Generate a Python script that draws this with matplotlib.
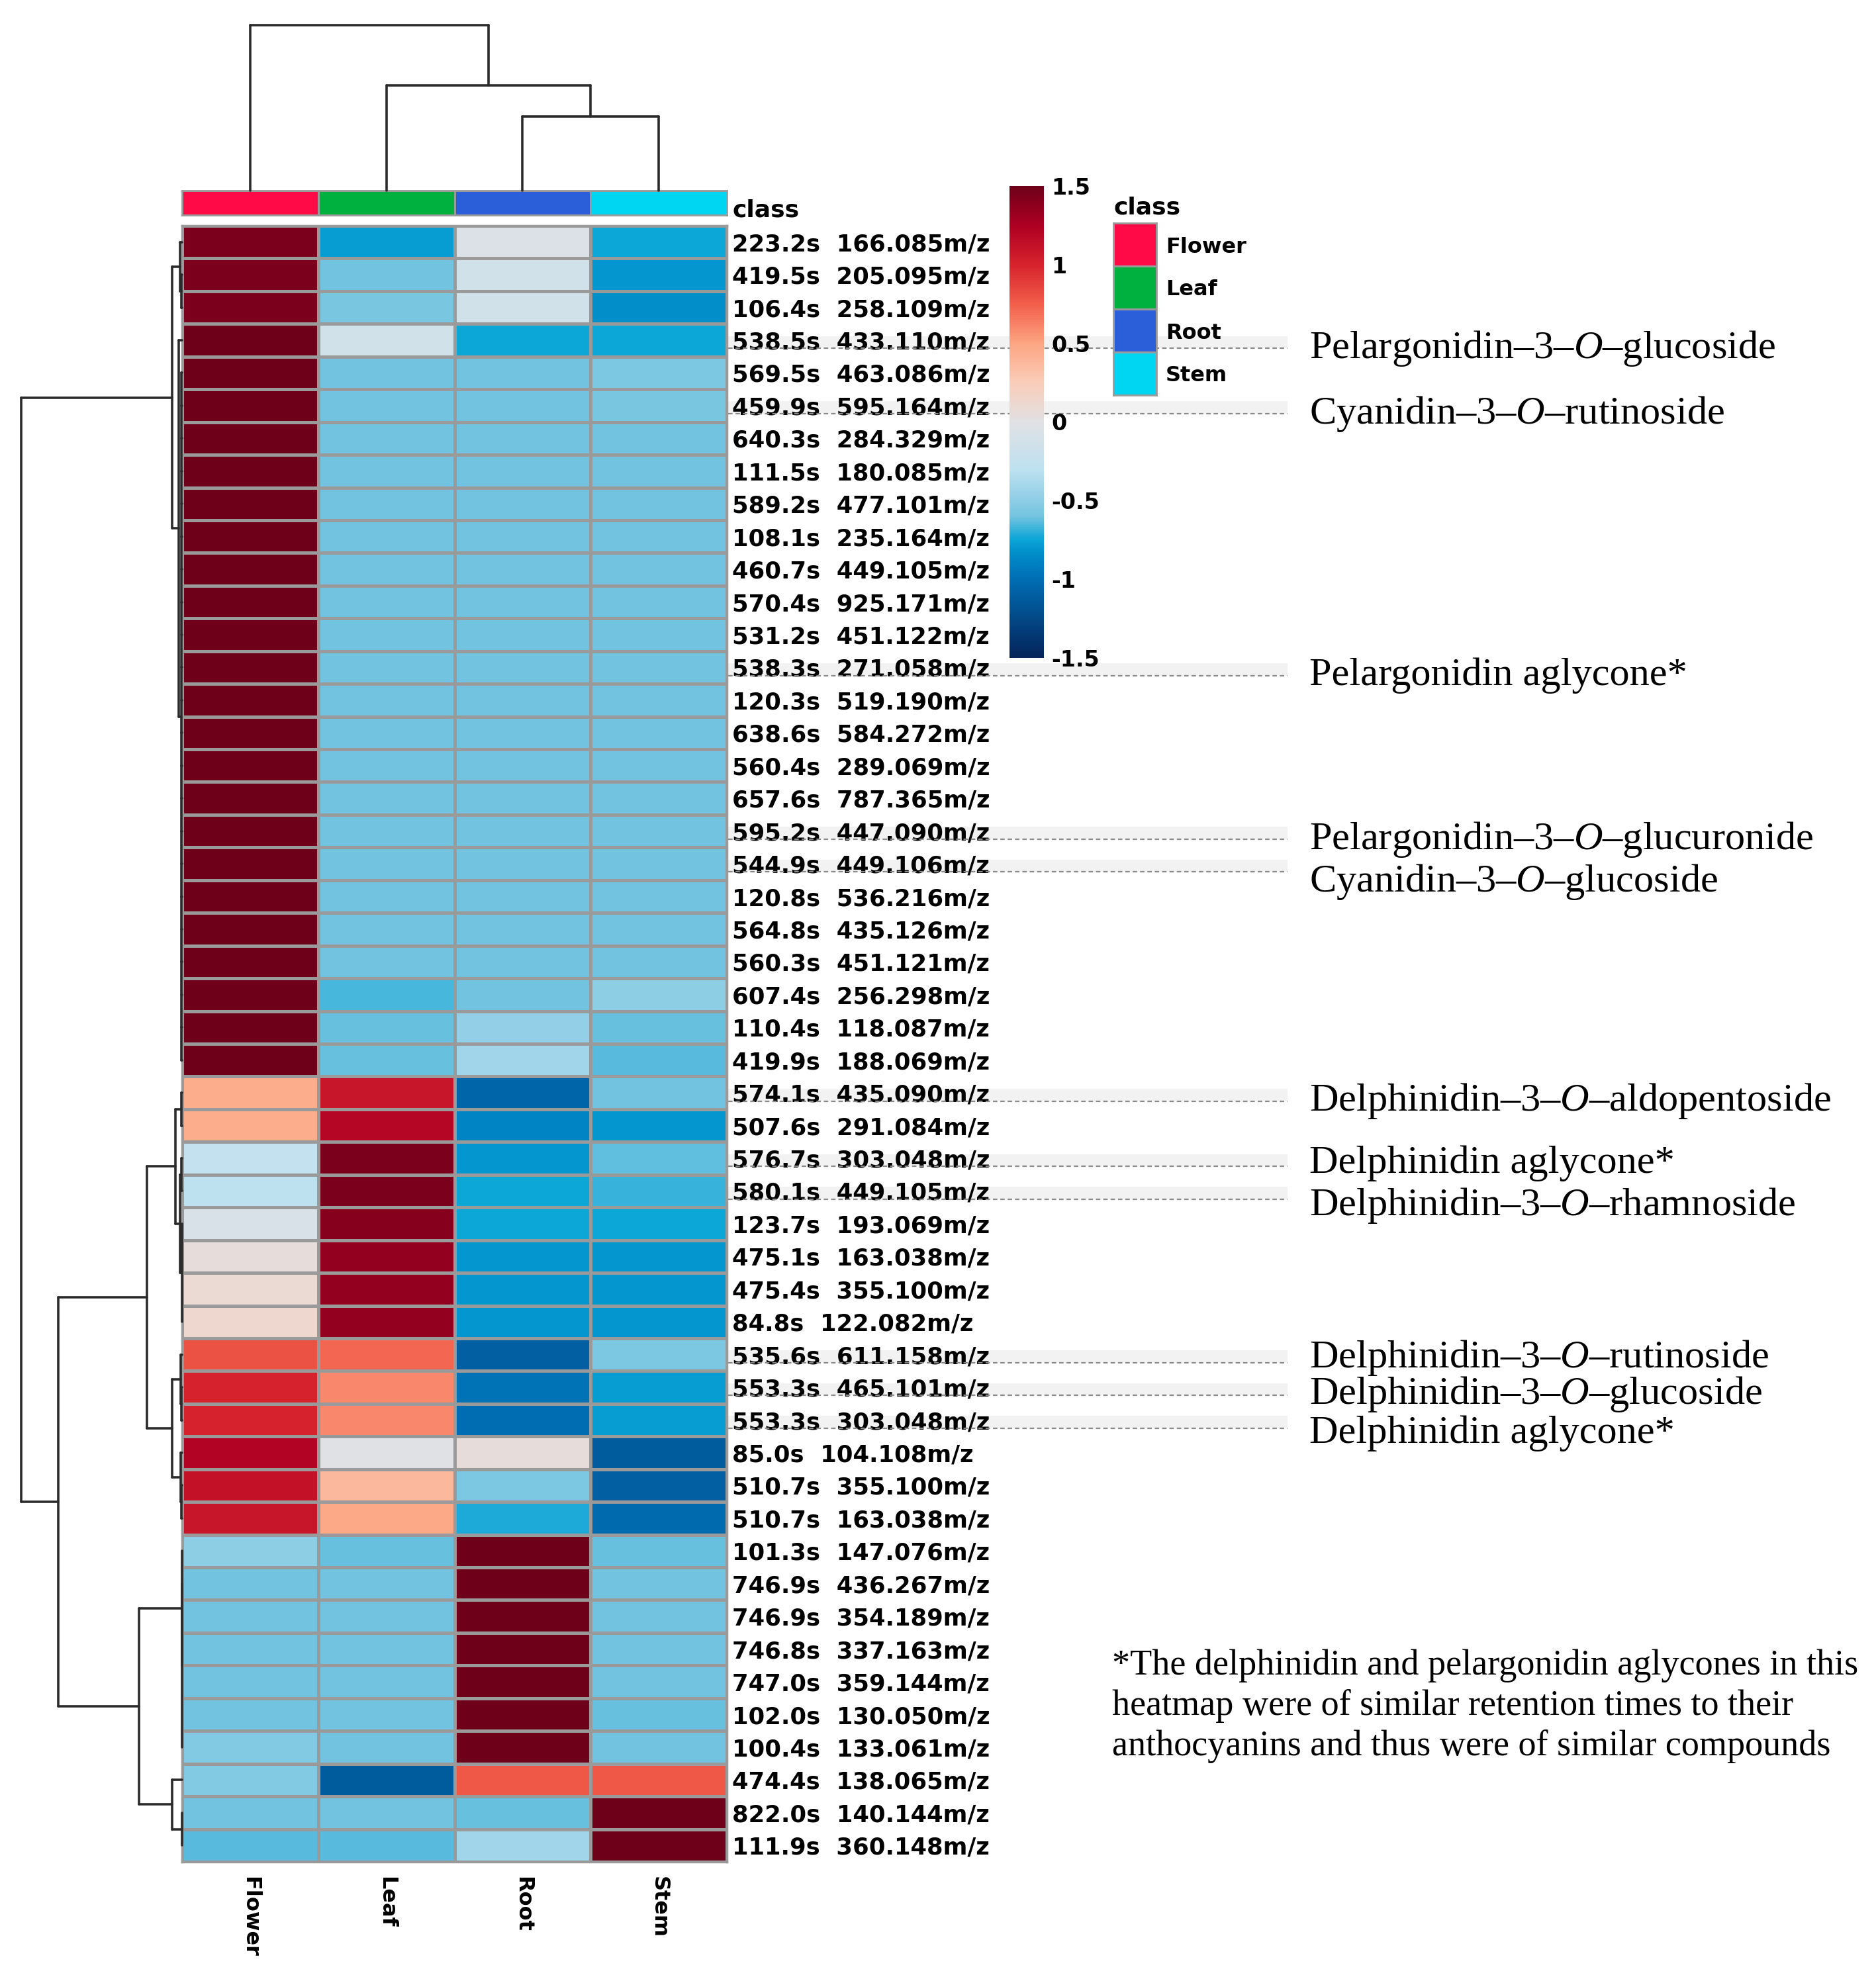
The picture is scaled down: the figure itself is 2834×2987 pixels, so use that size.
import matplotlib

matplotlib.use("Agg")
import matplotlib.pyplot as plt
import numpy as np
from matplotlib.colors import LinearSegmentedColormap, ListedColormap
from matplotlib.patches import Rectangle
from matplotlib.transforms import blended_transform_factory

plt.rcParams["mathtext.fontset"] = "custom"
plt.rcParams["mathtext.rm"] = "Liberation Serif"
plt.rcParams["mathtext.it"] = "Liberation Serif:italic"

# ---- data (rows top to bottom, as clustered) ----
rt = ["223.2s", "419.5s", "106.4s", "538.5s", "569.5s", "459.9s", "640.3s", "111.5s",
      "589.2s", "108.1s", "460.7s", "570.4s", "531.2s", "538.3s", "120.3s", "638.6s",
      "560.4s", "657.6s", "595.2s", "544.9s", "120.8s", "564.8s", "560.3s", "607.4s",
      "110.4s", "419.9s", "574.1s", "507.6s", "576.7s", "580.1s", "123.7s", "475.1s",
      "475.4s", "84.8s", "535.6s", "553.3s", "553.3s", "85.0s", "510.7s", "510.7s",
      "101.3s", "746.9s", "746.9s", "746.8s", "747.0s", "102.0s", "100.4s", "474.4s",
      "822.0s", "111.9s"]
mz = ["166.085", "205.095", "258.109", "433.110", "463.086", "595.164", "284.329", "180.085",
      "477.101", "235.164", "449.105", "925.171", "451.122", "271.058", "519.190", "584.272",
      "289.069", "787.365", "447.090", "449.106", "536.216", "435.126", "451.121", "256.298",
      "118.087", "188.069", "435.090", "291.084", "303.048", "449.105", "193.069", "163.038",
      "355.100", "122.082", "611.158", "465.101", "303.048", "104.108", "355.100", "163.038",
      "147.076", "436.267", "354.189", "337.163", "359.144", "130.050", "133.061", "138.065",
      "140.144", "360.148"]

flower = [1.45, 1.45, 1.45, 1.5, 1.5, 1.5, 1.5, 1.5, 1.5, 1.5, 1.5, 1.5, 1.5, 1.5, 1.5, 1.5,
          1.5, 1.5, 1.5, 1.5, 1.5, 1.5, 1.5, 1.5, 1.5, 1.5,
          0.45, 0.45, -0.25, -0.3, -0.08, 0.05, 0.1, 0.12, 0.8, 1.0, 1.0, 1.22, 1.12, 1.1,
          -0.5, -0.6, -0.6, -0.6, -0.6, -0.6, -0.55, -0.55, -0.6, -0.64]
leaf = [-0.78, -0.6, -0.58, -0.15, -0.6, -0.6, -0.6, -0.6, -0.6, -0.6, -0.6, -0.6, -0.6, -0.6,
        -0.6, -0.6, -0.6, -0.6, -0.6, -0.6, -0.6, -0.6, -0.6, -0.66, -0.62, -0.62,
        1.1, 1.2, 1.45, 1.45, 1.4, 1.35, 1.35, 1.35, 0.72, 0.6, 0.6, -0.02, 0.38, 0.47,
        -0.62, -0.6, -0.6, -0.6, -0.6, -0.6, -0.6, -1.12, -0.6, -0.64]
root = [-0.05, -0.15, -0.15, -0.74, -0.6, -0.6, -0.6, -0.6, -0.6, -0.6, -0.6, -0.6, -0.6, -0.6,
        -0.6, -0.6, -0.6, -0.6, -0.6, -0.6, -0.6, -0.6, -0.6, -0.6, -0.48, -0.42,
        -1.05, -0.88, -0.8, -0.74, -0.74, -0.8, -0.8, -0.8, -1.1, -0.98, -1.0, 0.05, -0.57, -0.72,
        1.5, 1.5, 1.5, 1.5, 1.5, 1.5, 1.5, 0.78, -0.62, -0.42]
stem = [-0.74, -0.8, -0.84, -0.74, -0.57, -0.58, -0.6, -0.6, -0.6, -0.6, -0.6, -0.6, -0.6, -0.6,
        -0.6, -0.6, -0.6, -0.6, -0.6, -0.6, -0.6, -0.6, -0.6, -0.5, -0.62, -0.64,
        -0.6, -0.8, -0.63, -0.68, -0.74, -0.8, -0.8, -0.8, -0.57, -0.78, -0.78, -1.12, -1.1, -1.02,
        -0.62, -0.6, -0.6, -0.6, -0.6, -0.62, -0.6, 0.78, 1.5, 1.5]

tissues = ["Flower", "Leaf", "Root", "Stem"]
class_colors = ["#ff0a47", "#00b140", "#2b5fd9", "#00d5f2"]

# dendrograms: (children, merge height); ints are leaves
row_tree = ([
    ([([0, ([1, 2], 1.5)], 3),
      ([3, ([4, 5, 6, 7, 8, 9, 10, 11, 12, 13, 14, 15, 16, 17, 18, 19, 20, 21, 22, 23, 24, 25], 1.5)], 5)], 15),
    ([([([([26, 27], 0.8), ([([28, 29], 1), ([30, 31, 32, 33], 0.5)], 3)], 10),
         ([([34, ([35, 36], 1)], 2.5), ([37, ([38, 39], 1)], 2)], 15)], 53),
      ([([40, ([41, 42, 43, 44, 45, 46], 0.2)], 0.4), ([47, ([48, 49], 0.5)], 15)], 65)], 187),
], 243)
col_tree = ([0, ([1, ([2, 3], 112)], 159)], 250)

annot_names = ["Pelargonidin–3–$\\mathit{O}$–glucoside", "Cyanidin–3–$\\mathit{O}$–rutinoside",
               "Pelargonidin aglycone*", "Pelargonidin–3–$\\mathit{O}$–glucuronide",
               "Cyanidin–3–$\\mathit{O}$–glucoside", "Delphinidin–3–$\\mathit{O}$–aldopentoside",
               "Delphinidin aglycone*", "Delphinidin–3–$\\mathit{O}$–rhamnoside",
               "Delphinidin–3–$\\mathit{O}$–rutinoside", "Delphinidin–3–$\\mathit{O}$–glucoside",
               "Delphinidin aglycone*"]
annot_rows = [3, 5, 13, 18, 19, 26, 28, 29, 34, 35, 36]
annot_nudge = [0, 0, 0, 0, 0.3, 0, -0.1, 0.2, -0.15, -0.05, 0.15]

footnote = ("*The delphinidin and pelargonidin aglycones in this\n"
            "heatmap were of similar retention times to their\n"
            "anthocyanins and thus were of similar compounds")

cbar_ticks = [1.5, 1, 0.5, 0, -0.5, -1, -1.5]
cbar_labels = ["1.5", "1", "0.5", "0", "-0.5", "-1", "-1.5"]

# colour ramp
cmap_pos = [-1.5, -1.0, -0.85, -0.75, -0.6, -0.3, 0.0, 0.25, 0.5, 0.75, 1.0, 1.25, 1.5]
cmap_cols = ["#04245a", "#006eb4", "#008cc8", "#0aa5d7", "#75c4e0", "#bee1f0", "#e1e1e4",
             "#facdb9", "#fca582", "#f25f4b", "#d7232d", "#af0023", "#6e0019"]
cmap = LinearSegmentedColormap.from_list(
    "key", [((p + 1.5) / 3.0, c) for p, c in zip(cmap_pos, cmap_cols)])

W, H = 2834, 2987
fig = plt.figure(figsize=(W / 100, H / 100), dpi=100)


def fx(px):
    return px / W


def fy(px):
    return 1 - px / H


lab_font = dict(family="DejaVu Sans", weight="bold")
grid_col = "#9a9a9a"
line_col = "#2b2b2b"

# heatmap
hx0, hx1, hy0, hy1 = 275, 1098, 341, 2813
ax = fig.add_axes([fx(hx0), fy(hy1), fx(hx1 - hx0), (hy1 - hy0) / H])
data = np.array([flower, leaf, root, stem]).T
ax.pcolormesh(data, cmap=cmap, vmin=-1.5, vmax=1.5, edgecolors=grid_col, linewidth=2.5)
ax.set_xlim(0, 4)
ax.set_ylim(len(rt), 0)
ax.yaxis.tick_right()
ax.set_yticks(np.arange(len(rt)) + 0.5)
ax.set_yticklabels([f"{a}  {b}m/z" for a, b in zip(rt, mz)], fontsize=25.5, **lab_font)
ax.set_xticks(np.arange(4) + 0.5)
ax.set_xticklabels(tissues, rotation=270, fontsize=23, **lab_font)
ax.tick_params(length=0, pad=6)
ax.tick_params(axis="x", pad=16)
for s in ax.spines.values():
    s.set_color(grid_col)
    s.set_linewidth(2.5)

# class bar
axc = fig.add_axes([fx(hx0), fy(325), fx(hx1 - hx0), 37 / H])
axc.pcolormesh(np.arange(4).reshape(1, 4), cmap=ListedColormap(class_colors),
               edgecolors=grid_col, linewidth=2)
axc.set_xlim(0, 4)
axc.set_xticks([])
axc.yaxis.tick_right()
axc.set_yticks([0.3])
axc.set_ylim(0, 1)
axc.set_yticklabels(["class"], fontsize=26, **lab_font)
axc.tick_params(length=0, pad=6)
for s in axc.spines.values():
    s.set_color(grid_col)
    s.set_linewidth(2)


def draw_tree(a, node, vertical):
    if isinstance(node, int):
        return node + 0.5, 0.0
    children, h = node
    info = [draw_tree(a, c, vertical) for c in children]
    ps = [p for p, _ in info]
    for p, ch in info:
        seg(a, [p, p], [ch, h], vertical)
    seg(a, [min(ps), max(ps)], [h, h], vertical)
    return (min(ps) + max(ps)) / 2, h


def seg(a, pos, hts, vertical):
    if vertical:
        a.plot(pos, hts, color=line_col, lw=2.6, solid_capstyle="round", clip_on=False)
    else:
        a.plot(hts, pos, color=line_col, lw=2.6, solid_capstyle="round", clip_on=False)


# column dendrogram
axd = fig.add_axes([fx(hx0), fy(288), fx(hx1 - hx0), 250 / H])
draw_tree(axd, col_tree, True)
axd.set_xlim(0, 4)
axd.set_ylim(0, 250)
axd.axis("off")

# row dendrogram
axr = fig.add_axes([fx(32), fy(hy1), fx(hx0 - 32), (hy1 - hy0) / H])
draw_tree(axr, row_tree, False)
axr.set_xlim(243, 0)
axr.set_ylim(len(rt), 0)
axr.axis("off")

# colour key
cax = fig.add_axes([fx(1525), fy(994), fx(52), 713 / H])
sm = plt.cm.ScalarMappable(cmap=cmap, norm=plt.Normalize(-1.5, 1.5))
cb = fig.colorbar(sm, cax=cax)
cb.outline.set_visible(False)
cb.set_ticks(cbar_ticks)
cb.set_ticklabels(cbar_labels)
cax.tick_params(length=0, pad=8, labelsize=24)
for t in cax.get_yticklabels():
    t.set_fontweight("bold")

# class legend
axl = fig.add_axes([fx(1682), fy(597), fx(65), 260 / H])
axl.pcolormesh(np.arange(4).reshape(4, 1), cmap=ListedColormap(class_colors),
               edgecolors=grid_col, linewidth=2)
axl.set_ylim(4, 0)
axl.set_xticks([])
axl.yaxis.tick_right()
axl.set_yticks(np.arange(4) + 0.5)
axl.set_yticklabels(tissues, fontsize=23, **lab_font)
axl.tick_params(length=0, pad=10)
for s in axl.spines.values():
    s.set_color(grid_col)
    s.set_linewidth(2)
axl.set_title("class", loc="left", fontsize=26, pad=10, **lab_font)

# compound annotations
tr = blended_transform_factory(fig.transFigure, ax.transData)
for name, r, dn in zip(annot_names, annot_rows, annot_nudge):
    yl = r + 0.75
    ax.add_patch(Rectangle((fx(1100), yl - 0.38), fx(845), 0.38, transform=tr,
                           color="#ededed", alpha=0.7, lw=0, clip_on=False, zorder=0))
    ax.plot([fx(1100), fx(1945)], [yl, yl], transform=tr, color="#8a8a8a",
            lw=1.6, ls=(0, (3, 2)), clip_on=False)
    ax.text(fx(1978), yl + dn, name, transform=tr, fontsize=43.5,
            family="Liberation Serif", va="center", ha="left")

fig.text(fx(1680), fy(2578), footnote, fontsize=39, family="Liberation Serif",
         va="center", ha="left", linespacing=1.25)

fig.savefig("out.png", dpi=100, facecolor="white")
